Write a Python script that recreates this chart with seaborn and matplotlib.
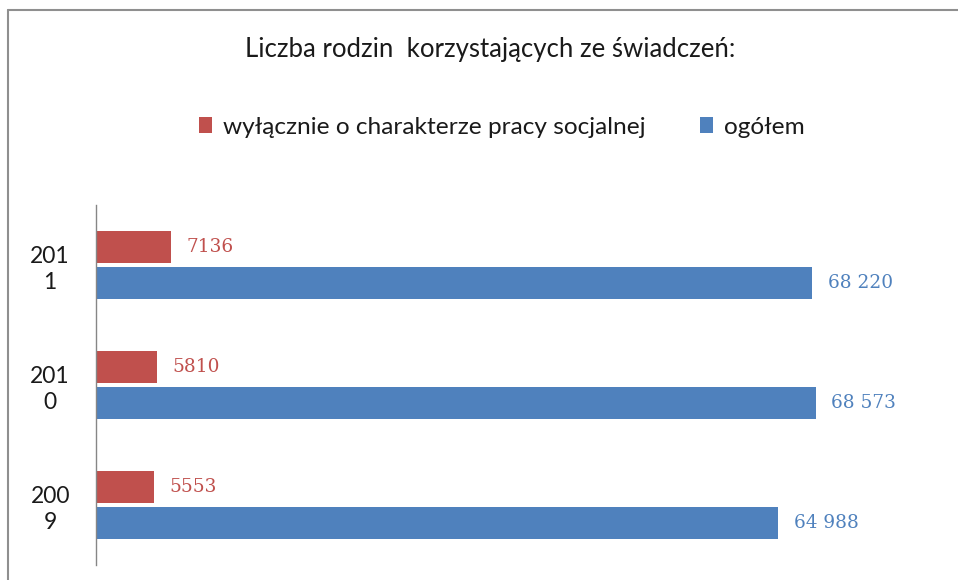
import matplotlib
matplotlib.use('Agg')
import matplotlib.pyplot as plt
import seaborn as sns
import pandas as pd
from matplotlib.patches import Patch
from matplotlib.lines import Line2D

# ---- data ----
years = ['201\n1', '201\n0', '200\n9']
series_names = ['wyłącznie o charakterze pracy socjalnej', 'ogółem']
social_work = [7136, 5810, 5553]
total = [68220, 68573, 64988]
social_labels = ['7136', '5810', '5553']
total_labels = ['68 220', '68 573', '64 988']
colors = ['#C0504D', '#4F81BD']
title = 'Liczba rodzin  korzystających ze świadczeń:'

sns.set_theme(style='white')
plt.rcParams['font.family'] = ['Lato', 'DejaVu Sans']

df = pd.DataFrame({
    'year': years * 2,
    'series': [series_names[0]] * len(years) + [series_names[1]] * len(years),
    'value': social_work + total,
})

W, H = 958, 580
fig = plt.figure(figsize=(W / 100, H / 100), dpi=100)
ax = fig.add_axes([96 / W, 15 / H, (936 - 96) / W, 360 / H])

sns.barplot(data=df, x='value', y='year', hue='series', hue_order=series_names,
            order=years, palette=colors, orient='h', width=0.6, gap=0.1,
            saturation=1, legend=False, linewidth=0, ax=ax)

ax.set_xlim(0, 80000)
ax.set_xlabel('')
ax.set_ylabel('')
ax.set_xticks([])
for s in ['top', 'right', 'bottom']:
    ax.spines[s].set_visible(False)
ax.spines['left'].set_color('#868686')
ax.spines['left'].set_linewidth(1.0)
ax.tick_params(axis='y', length=0, pad=33, labelsize=16.5, labelcolor='#1a1a1a')
for t in ax.get_yticklabels():
    t.set_ha('center')
    t.set_multialignment('center')
    t.set_linespacing(1.3)

for cont, labs, col in zip(ax.containers, [social_labels, total_labels], colors):
    ax.bar_label(cont, labels=labs, padding=11, color=col,
                 fontfamily='DejaVu Serif', fontsize=13.3)

fig.text(490 / W, 1 - 50 / H, title, ha='center', va='center', fontsize=18.5,
         color='#1a1a1a')

handles = [Patch(facecolor=c, edgecolor='none') for c in colors]
fig.legend(handles, series_names, loc='center', bbox_to_anchor=(502 / W, 1 - 127 / H),
           ncol=2, frameon=False, fontsize=17.6, handlelength=0.55, handleheight=0.6,
           handletextpad=0.45, columnspacing=2.2, labelcolor='#1a1a1a')

fig.add_artist(Line2D([8 / W, 8 / W], [0, 1 - 10 / H], transform=fig.transFigure,
                      color='#8f8f8f', lw=1.5))
fig.add_artist(Line2D([8 / W, 1], [1 - 10 / H, 1 - 10 / H], transform=fig.transFigure,
                      color='#8f8f8f', lw=1.5))

fig.savefig('out.png', dpi=100)
